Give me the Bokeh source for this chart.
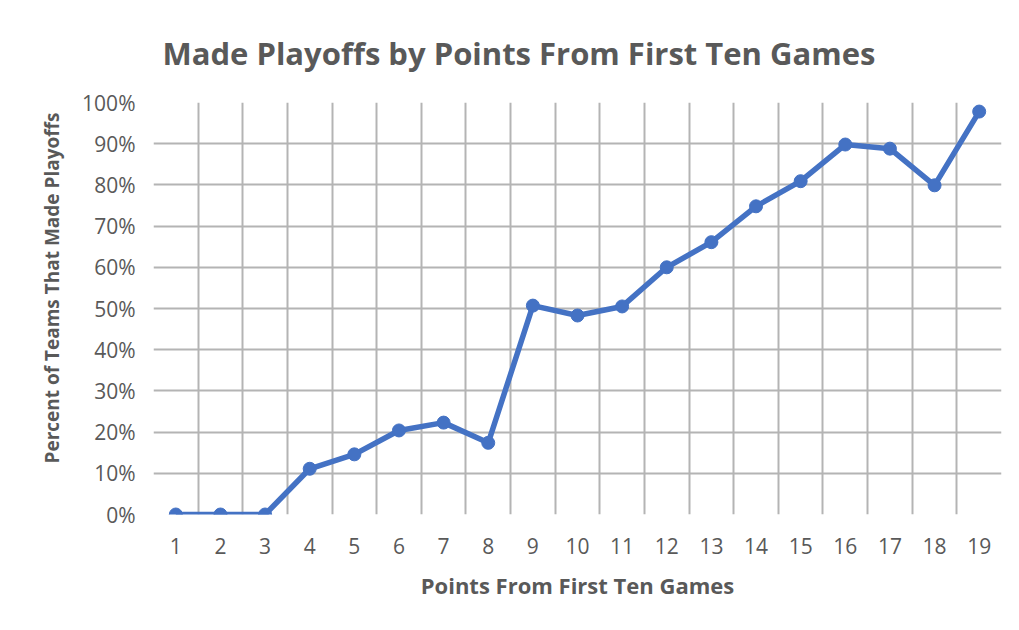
from bokeh.plotting import figure
from bokeh.models import ColumnDataSource, FixedTicker, NumeralTickFormatter, Range1d, Title
from bokeh.embed import file_html
from bokeh.resources import INLINE

# ---- data ----
categories = [str(i) for i in range(1, 20)]
made_playoffs = [0.0, 0.0, 0.0, 0.111, 0.146, 0.204, 0.223, 0.174, 0.507, 0.483,
                 0.505, 0.600, 0.661, 0.748, 0.809, 0.898, 0.888, 0.799, 0.978]
y_ticks = [0.0, 0.1, 0.2, 0.3, 0.4, 0.5, 0.6, 0.7, 0.8, 0.9, 1.0]

title_text = "Made Playoffs by Points From First Ten Games"
x_label = "Points From First Ten Games"
y_label = "Percent of Teams That Made Playoffs"

FONT = "Open Sans"
TXT = "#595959"
GRID = "#b4b4b4"
BLUE = "#4472C4"

W, H = 1011, 622
xs = list(range(1, len(categories) + 1))
src = ColumnDataSource(dict(x=xs, y=made_playoffs, cat=categories))

p = figure(width=W, height=H, output_backend="svg", toolbar_location=None,
           x_range=Range1d(0.5, len(categories) + 0.5), y_range=Range1d(0, 1.0),
           min_border_left=153, min_border_right=10, min_border_top=102, min_border_bottom=108)
p.outline_line_color = None
p.background_fill_color = "white"
p.border_fill_color = "white"

# title (above, left-aligned with offset)
p.title = Title(text=title_text, align="left", offset=9, standoff=58,
                text_font=FONT, text_font_size="31px", text_font_style="bold",
                text_color=TXT)

# axes
p.xaxis.ticker = FixedTicker(ticks=xs)
p.xaxis.major_label_overrides = {x: c for x, c in zip(xs, categories)}
p.yaxis.ticker = FixedTicker(ticks=y_ticks)
p.yaxis.formatter = NumeralTickFormatter(format="0%")
for ax in (p.xaxis, p.yaxis):
    ax.axis_line_color = None
    ax.major_tick_line_color = None
    ax.minor_tick_line_color = None
    ax.major_label_text_font = FONT
    ax.major_label_text_font_size = "21px"
    ax.major_label_text_color = TXT
p.xaxis.major_label_standoff = 17
p.yaxis.major_label_standoff = 12

p.xaxis.axis_label = x_label
p.xaxis.axis_label_text_font = FONT
p.xaxis.axis_label_text_font_size = "22px"
p.xaxis.axis_label_text_font_style = "bold"
p.xaxis.axis_label_text_color = TXT
p.xaxis.axis_label_standoff = 13

# y-axis label as a left-side title so it can be offset along the axis
p.add_layout(Title(text=y_label, align="left", offset=51, standoff=30,
                   text_font=FONT, text_font_size="19px", text_font_style="bold",
                   text_color=TXT), "left")

# grid: vertical lines at category boundaries
p.xgrid.ticker = FixedTicker(ticks=[x - 0.5 for x in xs] + [len(xs) + 0.5])
p.ygrid.ticker = FixedTicker(ticks=y_ticks)
for g in (p.xgrid, p.ygrid):
    g.grid_line_color = GRID
    g.grid_line_width = 2

# series
p.line("x", "y", source=src, line_color=BLUE, line_width=5.5, line_join="round")
p.scatter("x", "y", source=src, size=13, fill_color=BLUE, line_color=BLUE)

open("out.html", "w").write(file_html(p, INLINE))
